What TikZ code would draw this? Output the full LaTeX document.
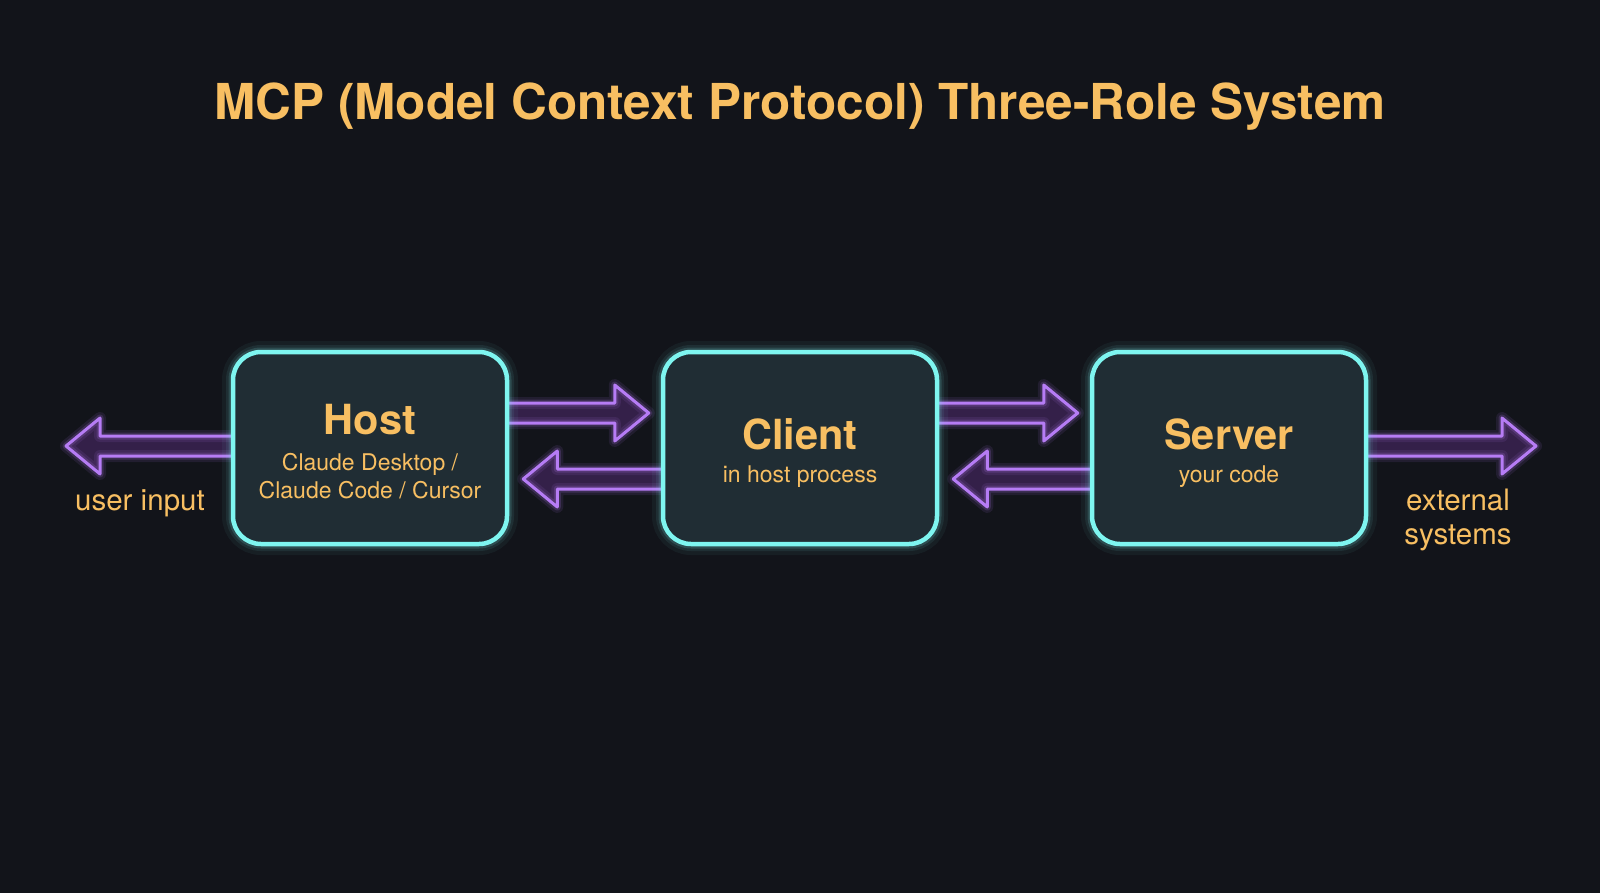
\documentclass[tikz,border=0pt]{standalone}
\usepackage{fontspec}
\setmainfont{TeX Gyre Heros}
\usetikzlibrary{calc}
\definecolor{bgc}{HTML}{12141A}
\definecolor{txt}{HTML}{F8BF62}
\definecolor{cyanb}{HTML}{7EF5F0}
\definecolor{boxf}{HTML}{202D34}
\definecolor{apurple}{HTML}{B67CF5}
\definecolor{afill}{HTML}{38224F}
\pgfdeclarelayer{bglayer}
\pgfdeclarelayer{arrowlayer}
\pgfsetlayers{bglayer,arrowlayer,main}
\tikzset{
  rolebox/.style={draw=cyanb, line width=4.5pt, fill=boxf, rounded corners=28pt,
    minimum width=274pt, minimum height=192pt, inner sep=0pt,
    preaction={draw=cyanb, line width=22pt, opacity=0.05},
    preaction={draw=cyanb, line width=14pt, opacity=0.08},
    preaction={draw=cyanb, line width=9pt, opacity=0.15}},
  roletitle/.style={text=txt, font=\bfseries\fontsize{41.5}{46}\selectfont, inner sep=0pt},
  rolesub/.style={text=txt, font=\fontsize{23}{28}\selectfont, align=center, inner sep=0pt},
  sidelabel/.style={text=txt, font=\fontsize{29.5}{34}\selectfont, align=center, inner sep=0pt},
  arrowfill/.style={fill=afill, fill opacity=0.9},
  arrowline/.style={draw=apurple, line width=3pt, line join=round,
    preaction={draw=apurple, line width=12pt, opacity=0.10, line join=round},
    preaction={draw=apurple, line width=7pt, opacity=0.18, line join=round}},
}
\newcommand\harrow[2]{%
  \fill[arrowfill] ($(#1)+(0,10)$) -- ($(#2)!34pt!(#1)+(0,10)$) -- ($(#2)!34pt!(#1)+(0,28)$) -- (#2)
     -- ($(#2)!34pt!(#1)+(0,-28)$) -- ($(#2)!34pt!(#1)+(0,-10)$) -- ($(#1)+(0,-10)$) -- cycle;
  \draw[arrowline] ($(#1)+(0,10)$) -- ($(#2)!34pt!(#1)+(0,10)$) -- ($(#2)!34pt!(#1)+(0,28)$) -- (#2)
     -- ($(#2)!34pt!(#1)+(0,-28)$) -- ($(#2)!34pt!(#1)+(0,-10)$) -- ($(#1)+(0,-10)$);
}
\begin{document}
\begin{tikzpicture}[x=1pt,y=-1pt]
\begin{pgfonlayer}{bglayer}
\fill[bgc] (0,0) rectangle (1600,893);
\end{pgfonlayer}
\useasboundingbox (0,0) rectangle (1600,893);

\node[text=txt, font=\bfseries\fontsize{49.5}{54}\selectfont, inner sep=0pt] (title) at (800,107)
  {MCP (Model Context Protocol) Three-Role System};

\node[rolebox] (host) at (370,448) {};
\node[rolebox] (client) at (800,448) {};
\node[rolebox] (server) at (1229,448) {};

\node[roletitle] (hostt) at (370,420) {Host};
\node[rolesub] (hosts) at (370,476) {Claude Desktop /\\Claude Code / Cursor};
\node[roletitle] (clientt) at (800,434) {Client};
\node[rolesub] (clients) at (800,477) {in host process};
\node[roletitle] (servert) at (1229,434) {Server};
\node[rolesub] (servers) at (1229,477) {your code};

\coordinate (uin) at (66,446);
\coordinate (ext) at (1536,446);
\node[sidelabel] (ulabel) at (140,503) {user input};
\node[sidelabel] (elabel) at (1458,520) {external\\systems};

\coordinate (a1s) at ($(host.west)+(4,-2)$);
\coordinate (a2s) at ($(host.east)+(-4,-35)$);
\coordinate (a2t) at ($(client.west)+(-12,-35)$);
\coordinate (a3s) at ($(client.west)+(4,31)$);
\coordinate (a3t) at ($(host.east)+(14,31)$);
\coordinate (a4s) at ($(client.east)+(-4,-35)$);
\coordinate (a4t) at ($(server.west)+(-12,-35)$);
\coordinate (a5s) at ($(server.west)+(4,31)$);
\coordinate (a5t) at ($(client.east)+(14,31)$);
\coordinate (a6s) at ($(server.east)+(-4,-2)$);

\begin{pgfonlayer}{arrowlayer}
\harrow{a1s}{uin}
\harrow{a2s}{a2t}
\harrow{a3s}{a3t}
\harrow{a4s}{a4t}
\harrow{a5s}{a5t}
\harrow{a6s}{ext}
\end{pgfonlayer}
\end{tikzpicture}
\end{document}
